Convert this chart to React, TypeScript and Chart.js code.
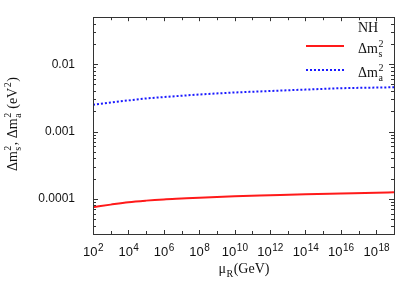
import React, { useEffect, useRef } from "react";
import { Chart, registerables } from "chart.js";

Chart.register(...registerables);

// ---- data ----
const muR = [1e2, 1e3, 1e4, 1e5, 1e6, 1e7, 1e8, 1e10, 1e12, 1e14, 1e16, 1e18, 1e19];
const dm2Solar = [7.5e-5, 8.2e-5, 8.9e-5, 9.4e-5, 9.8e-5, 1.01e-4, 1.04e-4, 1.09e-4, 1.13e-4, 1.17e-4, 1.2e-4, 1.23e-4, 1.25e-4];
const dm2Atm = [0.0025, 0.0027, 0.0029, 0.0031, 0.00325, 0.0034, 0.00355, 0.0038, 0.004, 0.0042, 0.0044, 0.0045, 0.00455];
const xTickExponents = [2, 4, 6, 8, 10, 12, 14, 16, 18];
const yTickValues = [1e-4, 1e-3, 1e-2];
const yTickLabels = ["0.0001", "0.001", "0.01"];
const legendTitle = "NH";
const seriesNames = ["Δm²s", "Δm²a"];

type Part = { t: string; sup?: string; sub?: string };
const yTitleParts: Part[] = [
  { t: "Δm", sup: "2", sub: "s" },
  { t: ", Δm", sup: "2", sub: "a" },
  { t: " (eV", sup: "2" },
  { t: ")" },
];
const xTitleParts: Part[] = [{ t: "μ", sub: "R" }, { t: "(GeV)" }];
const legendParts: Part[][] = [
  [{ t: "Δm", sup: "2", sub: "s" }],
  [{ t: "Δm", sup: "2", sub: "a" }],
];

const SERIF = "'Liberation Serif', 'Times New Roman', serif";
const SANS = "'Liberation Sans', Arial, sans-serif";

function richWidth(ctx: CanvasRenderingContext2D, parts: Part[], size: number, small: number, fam: string) {
  let w = 0;
  for (const p of parts) {
    ctx.font = `${size}px ${fam}`;
    w += ctx.measureText(p.t).width;
    ctx.font = `${small}px ${fam}`;
    const a = p.sup ? ctx.measureText(p.sup).width : 0;
    const b = p.sub ? ctx.measureText(p.sub).width : 0;
    w += Math.max(a, b);
  }
  return w;
}

function drawRich(
  ctx: CanvasRenderingContext2D,
  parts: Part[],
  x: number,
  y: number,
  align: "left" | "center",
  size: number,
  small: number,
  fam: string
) {
  const total = richWidth(ctx, parts, size, small, fam);
  let cx = align === "center" ? x - total / 2 : x;
  ctx.textAlign = "left";
  ctx.textBaseline = "alphabetic";
  for (const p of parts) {
    ctx.font = `${size}px ${fam}`;
    ctx.fillText(p.t, cx, y);
    cx += ctx.measureText(p.t).width;
    ctx.font = `${small}px ${fam}`;
    let w = 0;
    if (p.sup) {
      ctx.fillText(p.sup, cx + 0.5, y - size * 0.42);
      w = Math.max(w, ctx.measureText(p.sup).width);
    }
    if (p.sub) {
      ctx.fillText(p.sub, cx + 0.5, y + size * 0.25);
      w = Math.max(w, ctx.measureText(p.sub).width);
    }
    cx += w + (w ? 1 : 0);
  }
}

const decorPlugin = {
  id: "decor",
  afterDatasetsDraw(chart: any) {
    const ctx: CanvasRenderingContext2D = chart.ctx;
    const { left, right, top, bottom } = chart.chartArea;
    const xs = chart.scales.x;
    const ys = chart.scales.y;
    ctx.save();
    // frame
    ctx.strokeStyle = "#333";
    ctx.lineWidth = 1;
    ctx.strokeRect(Math.round(left) + 0.5, Math.round(top) + 0.5, Math.round(right - left), Math.round(bottom - top));
    ctx.beginPath();
    // x ticks
    for (let e = 2; e <= 19; e++) {
      const px = Math.round(xs.getPixelForValue(Math.pow(10, e))) + 0.5;
      const len = e % 2 === 0 ? 4 : 3;
      ctx.moveTo(px, bottom);
      ctx.lineTo(px, bottom - len);
      ctx.moveTo(px, top);
      ctx.lineTo(px, top + len);
    }
    // y ticks
    for (let d = -5; d <= -2; d++) {
      for (let m = 1; m <= 9; m++) {
        const v = m * Math.pow(10, d);
        if (v < ys.min || v > ys.max) continue;
        const py = Math.round(ys.getPixelForValue(v)) + 0.5;
        const len = m === 1 ? 5 : 3;
        ctx.moveTo(left, py);
        ctx.lineTo(left + len, py);
        ctx.moveTo(right, py);
        ctx.lineTo(right - len, py);
      }
    }
    ctx.stroke();

    ctx.fillStyle = "#111";
    // x tick labels
    for (const e of xTickExponents) {
      const px = xs.getPixelForValue(Math.pow(10, e));
      drawRich(ctx, [{ t: "10", sup: String(e) }], px, 256, "center", 13, 10, SANS);
    }
    // x title
    drawRich(ctx, xTitleParts, (left + right) / 2, 273, "center", 14, 10, SERIF);
    // y title
    ctx.save();
    ctx.translate(17, (top + bottom) / 2);
    ctx.rotate(-Math.PI / 2);
    drawRich(ctx, yTitleParts, 0, 0, "center", 14, 10, SERIF);
    ctx.restore();

    // legend
    ctx.font = `14px ${SERIF}`;
    ctx.textAlign = "left";
    ctx.fillText(legendTitle, 358, 32);
    const lineY = [46, 70];
    chart.data.datasets.forEach((ds: any, i: number) => {
      ctx.save();
      ctx.strokeStyle = ds.borderColor;
      ctx.lineWidth = ds.borderWidth;
      ctx.setLineDash(ds.borderDash || []);
      ctx.beginPath();
      ctx.moveTo(306, lineY[i]);
      ctx.lineTo(344, lineY[i]);
      ctx.stroke();
      ctx.restore();
      drawRich(ctx, legendParts[i], 358, lineY[i] + 7, "left", 14, 10, SERIF);
    });
    ctx.restore();
  },
};

export default function App() {
  const ref = useRef<HTMLCanvasElement>(null);
  useEffect(() => {
    if (!ref.current) return;
    const chart = new Chart(ref.current, {
      type: "line",
      data: {
        datasets: [
          {
            label: seriesNames[0],
            data: muR.map((x, i) => ({ x, y: dm2Solar[i] })),
            borderColor: "#ff1a1a",
            borderWidth: 2,
            pointRadius: 0,
            cubicInterpolationMode: "monotone",
            fill: false,
          },
          {
            label: seriesNames[1],
            data: muR.map((x, i) => ({ x, y: dm2Atm[i] })),
            borderColor: "#1a1aff",
            borderWidth: 2,
            borderDash: [2, 2],
            pointRadius: 0,
            cubicInterpolationMode: "monotone",
            fill: false,
          },
        ],
      } as any,
      options: {
        animation: false,
        responsive: false,
        layout: { padding: { top: 16, right: 26, left: 0, bottom: 0 } },
        plugins: { legend: { display: false }, tooltip: { enabled: false } },
        scales: {
          x: {
            type: "logarithmic",
            min: 1e2,
            max: 1e19,
            grid: { display: false },
            border: { display: false },
            ticks: { display: false },
            afterFit: (s: any) => {
              s.height = 60;
            },
          },
          y: {
            type: "logarithmic",
            min: 3e-5,
            max: 0.05,
            grid: { display: false },
            border: { display: false },
            afterBuildTicks: (s: any) => {
              s.ticks = yTickValues.map((v) => ({ value: v }));
            },
            ticks: {
              padding: 10,
              color: "#111",
              font: { family: SANS, size: 12 },
              callback: (v: any) => {
                const i = yTickValues.findIndex((t) => Math.abs(t - v) / t < 1e-6);
                return i >= 0 ? yTickLabels[i] : "";
              },
            },
            afterFit: (s: any) => {
              s.width = 93;
            },
          },
        },
      } as any,
      plugins: [decorPlugin],
    });
    return () => chart.destroy();
  }, []);
  return (
    <div style={{ position: "absolute", left: 0, top: 0, width: 420, height: 294, background: "#fff" }}>
      <canvas ref={ref} width={420} height={294} />
    </div>
  );
}
